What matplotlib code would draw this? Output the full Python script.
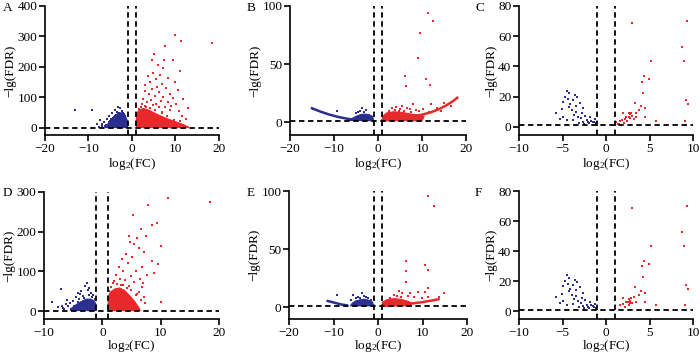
import matplotlib
matplotlib.use('Agg')
import matplotlib.pyplot as plt

plt.rcParams['font.family'] = ['Liberation Serif', 'DejaVu Serif']
plt.rcParams['mathtext.fontset'] = 'custom'
plt.rcParams['mathtext.rm'] = 'Liberation Serif'
plt.rcParams['mathtext.it'] = 'Liberation Serif'
plt.rcParams['font.size'] = 9.5

BLUE = '#2b2f8f'
RED = '#e8282b'

# ---- panel A ----
a_blue_core_x = [-6.2, -5.6, -4.8, -4.0, -3.2, -2.4, -1.6, -1.1, -1.0]
a_blue_core_y = [1.3, 12, 28, 40, 48, 50, 42, 25, 1.3]
a_blue_x = [-13, -9.2, -7.3, -8.0, -6.5, -5.8, -5.2, -4.6, -3.8, -3.2, -2.7, -2.2, -4.0, -6.8, -7.6, -5.0, -3.0, -1.8,
            -1.3, -2.5, -6.0, -5.4, -4.4, -3.5, -2.0, -1.5, -7.0, -6.3, -4.9, -3.6]
a_blue_y = [58, 60, 25, 14, 18, 30, 40, 48, 60, 70, 65, 55, 38, 6, 4, 22, 48, 45,
            30, 38, 10, 20, 34, 52, 50, 38, 12, 8, 30, 44]
a_red_core_x = [1.0, 1.0, 1.6, 2.6, 3.6, 5.0, 6.5, 8.5, 10.5, 12, 13, 13]
a_red_core_y = [1.3, 45, 58, 64, 60, 50, 40, 28, 18, 10, 3, 1.3]
a_red_x = [9.9, 11.2, 18.4, 7.7, 5.1, 4.5, 7.4, 9.4, 6.0, 11.0, 7.2, 4.8, 6.5, 3.7, 8.2, 5.5, 4.2, 9.8, 6.8, 3.1,
           5.8, 7.9, 4.6, 10.5, 2.9, 6.2, 8.8, 3.8, 5.2, 7.1, 9.5, 11.8, 2.5, 4.4, 6.6, 8.3, 10.2, 3.4, 5.6, 12.8,
           7.5, 9.0, 4.9, 2.2, 6.1, 8.7, 10.9, 3.0, 11.5, 12.5, 1.5, 2.0, 3.3, 4.1, 5.3, 7.0, 8.0, 9.6, 11.0, 6.8]
a_red_y = [305, 286, 278, 268, 244, 222, 222, 223, 207, 188, 196, 180, 175, 170, 165, 160, 150, 150, 145, 140,
           135, 130, 128, 125, 120, 118, 112, 110, 105, 102, 98, 95, 95, 92, 90, 85, 80, 85, 80, 65,
           70, 72, 75, 78, 68, 60, 55, 72, 40, 30, 62, 70, 68, 66, 58, 48, 38, 26, 22, 52]

# ---- panel B ----
b_blue_line_x = [-15, -13, -11, -9, -7, -6]
b_blue_line_y = [12, 9, 6.5, 4.5, 3, 2.5]
b_blue_core_x = [-7, -6, -5, -4, -3, -2, -1.2, -1.0]
b_blue_core_y = [1.5, 3, 5, 6.5, 7, 6.5, 5, 1.3]
b_blue_x = [-14.7, -9.4, -4.2, -3.6, -2.8, -5.0, -3.2, -4.6]
b_blue_y = [11.2, 9.8, 10, 12, 10.5, 8, 8.5, 9]
b_red_line_x = [1, 4, 7, 10, 12, 14, 15.5, 17, 18]
b_red_line_y = [1.5, 3, 4.5, 6.5, 8.5, 11.5, 14.5, 18, 21]
b_red_core_x = [1, 1, 2, 3.5, 5.5, 7.5, 9.5, 10.5, 10]
b_red_core_y = [1.3, 5, 8, 9, 8.5, 7, 6, 5, 1.3]
b_red_x = [11.3, 12.5, 9.5, 9.2, 6.2, 11, 6.3, 11.8, 12, 8, 15, 5.5, 4.2, 6.5, 3.2, 7.2, 8.6, 10.2, 13.5, 16.5,
           5, 2.5, 9.3, 4.8, 7.6, 13, 3.8, 6, 11.5, 14.3]
b_red_y = [94, 87, 77, 55, 40, 37, 31, 32, 16, 16, 16.5, 14, 13, 12, 12, 11, 10.5, 11, 12, 14,
           11, 10, 9.5, 10, 9, 10, 10.5, 10, 9, 9.5]

# ---- panel C ----
c_blue_x = [-4.5, -4.3, -4.7, -3.6, -4.9, -3.8, -3.0, -5.7, -5.1, -4.3, -3.9, -3.4, -4.9, -4.5, -3.8, -3.2,
            -2.8, -2.6, -2.2, -1.8, -1.5, -2.0, -1.3, -2.6, -3.1, -4.1, -3.5, -2.4, -1.7, -1.1, -1.4, -2.9,
            -3.7, -4.4, -5.3, -2.1, -1.2, -3.3, -2.5, -1.9]
c_blue_y = [24, 22.3, 20, 21.2, 16.7, 17.9, 16.1, 9.5, 11.7, 13.4, 11.2, 10.1, 6.8, 4.6, 4.9, 6.8,
            9.0, 12.3, 4.6, 6.4, 3.5, 2.4, 5.1, 3.5, 2.9, 15, 14, 7.5, 4.2, 2.6, 3.0, 5.8,
            8.2, 18.5, 5.5, 3.2, 1.9, 19.5, 2.2, 2.5]
c_red_x = [3.0, 9.3, 8.7, 9.0, 5.2, 4.4, 4.9, 4.1, 4.2, 9.2, 9.4, 3.3, 4.0, 4.5, 3.8, 2.9, 2.0, 2.3, 2.75,
           3.5, 4.5, 5.8, 9.1, 1.2, 1.6, 1.0, 1.4, 1.8, 2.1, 2.4, 2.6, 2.8, 3.0, 3.2, 2.7, 1.5, 3.4, 2.2]
c_red_y = [68.8, 70.3, 52.7, 43.6, 43.6, 33.7, 31.5, 30, 22.7, 17.9, 15.2, 16.1, 13.9, 12.3, 11.2, 9, 9, 6.4, 5.9,
           6.4, 6.4, 4.2, 4.2, 3.5, 4.2, 2.4, 2.2, 4.5, 2.8, 3.8, 6.5, 8.5, 7.0, 5.5, 9.5, 1.8, 9.0, 5.0]

# ---- panel D ----
d_blue_core_x = [-5.5, -5.2, -4.5, -3.6, -2.8, -2.0, -1.4, -1.05, -1.0]
d_blue_core_y = [1.3, 8, 16, 24, 30, 30, 26, 15, 1.3]
d_blue_x = [-8.7, -7.0, -7.6, -6.8, -6.2, -5.8, -5.0, -4.5, -4.2, -3.6, -3.0, -2.7, -2.3, -2.0, -3.3, -4.0,
            -5.5, -6.5, -1.6, -2.5, -3.8, -6.0, -4.8, -5.3, -4.1, -3.1, -1.8, -1.3, -2.2, -6.9]
d_blue_y = [22, 55, 10, 8, 18, 12, 25, 35, 45, 50, 62, 70, 58, 45, 38, 30,
            20, 4, 40, 52, 42, 28, 12, 6, 22, 34, 36, 30, 40, 14]
d_red_core_x = [1.0, 1.0, 1.4, 2.2, 3.0, 3.8, 4.6, 5.5, 6.2, 6.5]
d_red_core_y = [1.3, 35, 48, 56, 58, 52, 40, 25, 10, 1.3]
d_red_x = [11.3, 18.5, 7.8, 5.3, 9.3, 8.6, 6.6, 7.5, 6.0, 4.6, 10.0, 5.5, 4.8, 6.3, 7.2, 4.0, 5.1, 3.3, 8.6, 9.6,
           4.4, 6.8, 2.8, 5.8, 3.6, 8.8, 7.6, 4.9, 2.4, 6.4, 3.9, 5.4, 7.0, 6.8, 4.5, 3.2, 6.3, 5.8, 7.1, 10.0,
           6.7, 2.0, 1.5, 1.2, 2.6, 3.5, 4.2, 5.0, 6.0, 7.4, 3.0, 1.8]
d_red_y = [285, 276, 267, 242, 222, 217, 208, 190, 185, 190, 165, 170, 175, 160, 150, 145, 135, 130, 125, 118,
           120, 110, 112, 100, 100, 95, 92, 88, 90, 80, 78, 72, 70, 60, 62, 65, 48, 40, 35, 22,
           28, 75, 60, 50, 68, 66, 58, 52, 44, 20, 82, 70]

# ---- panel E ----
e_blue_line_x = [-11.3, -10, -9, -8, -7]
e_blue_line_y = [5.5, 4.2, 3.2, 2.3, 1.8]
e_blue_core_x = [-6.2, -5.8, -5, -4, -3, -2, -1.2, -1.0]
e_blue_core_y = [1.3, 3.5, 5.5, 6.5, 7, 6, 4.5, 1.3]
e_blue_x = [-9.3, -5.6, -3.5, -4.5, -4.0, -2.8, -5.0, -3.2, -2.2, -6.0, -1.6]
e_blue_y = [11, 11, 12.6, 9, 8, 9, 8, 10, 8, 6, 6.5]
e_red_line_x = [1, 4, 7, 10, 12, 13.6]
e_red_line_y = [1.5, 2, 3, 4.5, 5.8, 7]
e_red_core_x = [1, 1, 2, 3.5, 5, 6.5, 7.5, 7.5]
e_red_core_y = [1.3, 4.5, 6.5, 7.5, 7, 5.5, 4, 1.3]
e_red_x = [11.2, 12.6, 6.4, 6.2, 10.6, 11.3, 6.2, 11.3, 14.8, 7.2, 9, 10.5, 4.8, 5.5, 3.5, 8, 13.8, 4.2,
           6.8, 5.2, 2.8, 9.8, 11.2]
e_red_y = [95.7, 87.3, 39.7, 31, 36.8, 31.9, 21.8, 17, 12.6, 12, 13.5, 13.5, 14, 12.5, 11, 9, 8.5, 10,
           9.5, 9, 8, 8, 9]

# ---- panel F ----
f_blue_x = [-4.5, -4.3, -4.7, -3.6, -4.9, -3.8, -3.0, -5.7, -5.1, -4.3, -3.9, -3.4, -4.9, -4.5, -3.8, -3.2,
            -2.8, -2.6, -2.2, -1.8, -1.5, -2.0, -1.3, -2.6, -3.1, -4.1, -3.5, -2.4, -1.7, -1.1, -1.4, -2.9,
            -3.7, -4.4, -5.3, -2.1, -1.2, -3.3, -2.5]
f_blue_y = [24, 22.3, 20, 21.2, 16.7, 17.9, 16.1, 9.5, 11.7, 13.4, 11.2, 10.1, 6.8, 4.6, 4.9, 6.8,
            9.0, 12.3, 4.6, 6.4, 3.5, 2.4, 5.1, 3.5, 2.9, 15, 14, 7.5, 4.2, 2.6, 3.0, 5.8,
            8.2, 18.5, 5.5, 3.2, 1.9, 19.5, 2.2]
f_red_x = [3.0, 9.3, 8.7, 9.0, 5.2, 4.4, 4.9, 4.1, 4.2, 9.2, 9.4, 3.3, 4.0, 4.5, 3.8, 2.9, 2.0, 2.3, 2.75,
           3.5, 4.5, 5.8, 9.1, 1.6, 1.9, 2.2, 2.5, 2.6, 2.8, 3.0, 3.2, 2.7]
f_red_y = [68.8, 70.3, 52.7, 43.6, 43.6, 33.7, 31.5, 30, 22.7, 17.9, 15.2, 16.1, 13.9, 12.3, 11.2, 9, 9, 6.4, 5.9,
           6.4, 6.4, 4.2, 4.2, 4.0, 5.0, 3.2, 6.5, 8.5, 7.0, 5.5, 9.5, 4.5]

W, H = 700, 353
fig = plt.figure(figsize=(7, 3.53), dpi=100)


def make_ax(l, r, t, b):
    return fig.add_axes([l / W, 1 - b / H, (r - l) / W, (b - t) / H])


def style(ax, xlim, ylim, xticks, yticks, xlab_y):
    ax.set_xlim(*xlim)
    ax.set_ylim(*ylim)
    ax.set_xticks(xticks)
    ax.set_yticks(yticks)
    ax.set_xticklabels([str(v).replace('-', '\u2212') for v in xticks])
    ax.set_yticklabels([str(v) for v in yticks])
    for s in ['top', 'right']:
        ax.spines[s].set_visible(False)
    for s in ['left', 'bottom']:
        ax.spines[s].set_linewidth(1.2)
    ax.tick_params(direction='out', length=4, width=1.2, pad=1.5)
    ax.set_xlabel('log$_2$(FC)')
    ax.xaxis.set_label_coords(0.5, xlab_y)
    ax.set_ylabel('\u2212lg(FDR)', labelpad=0.5)
    kw = dict(color='black', ls=(0, (3, 2)), lw=1.3, zorder=5)
    ax.axvline(-1, **kw)
    ax.axvline(1, **kw)
    ax.axhline(1.3, **kw)


def dots(ax, x, y, c):
    ax.scatter(x, y, s=2.5, c=c, marker='s', linewidths=0, zorder=3)


def core(ax, x, y, c):
    ax.fill(x, y, color=c, lw=0.8, ec=c, zorder=2)


# A
ax = make_ax(45, 219, 6, 135)
core(ax, a_blue_core_x, a_blue_core_y, BLUE)
core(ax, a_red_core_x, a_red_core_y, RED)
dots(ax, a_blue_x, a_blue_y, BLUE)
dots(ax, a_red_x, a_red_y, RED)
style(ax, (-20, 20), (-23, 400), [-20, -10, 0, 10, 20], [0, 100, 200, 300, 400], -0.165)

# B
ax = make_ax(290, 466, 6, 135)
core(ax, b_blue_core_x, b_blue_core_y, BLUE)
core(ax, b_red_core_x, b_red_core_y, RED)
ax.plot(b_blue_line_x, b_blue_line_y, color=BLUE, lw=1.8)
ax.plot(b_red_line_x, b_red_line_y, color=RED, lw=1.8)
dots(ax, b_blue_x, b_blue_y, BLUE)
dots(ax, b_red_x, b_red_y, RED)
style(ax, (-20, 20), (-11, 100), [-20, -10, 0, 10, 20], [0, 50, 100], -0.165)

# C
ax = make_ax(519, 693, 6, 135)
dots(ax, c_blue_x, c_blue_y, BLUE)
dots(ax, c_red_x, c_red_y, RED)
style(ax, (-10, 10), (-5.3, 80), [-10, -5, 0, 5, 10], [0, 20, 40, 60, 80], -0.165)

# D
ax = make_ax(44, 219, 192, 319)
core(ax, d_blue_core_x, d_blue_core_y, BLUE)
core(ax, d_red_core_x, d_red_core_y, RED)
dots(ax, d_blue_x, d_blue_y, BLUE)
dots(ax, d_red_x, d_red_y, RED)
style(ax, (-10, 20), (-20, 300), [-10, 0, 10, 20], [0, 100, 200, 300], -0.15)

# E
ax = make_ax(289, 467, 191, 319)
core(ax, e_blue_core_x, e_blue_core_y, BLUE)
core(ax, e_red_core_x, e_red_core_y, RED)
ax.plot(e_blue_line_x, e_blue_line_y, color=BLUE, lw=1.8)
ax.plot(e_red_line_x, e_red_line_y, color=RED, lw=1.8)
dots(ax, e_blue_x, e_blue_y, BLUE)
dots(ax, e_red_x, e_red_y, RED)
style(ax, (-20, 20), (-10, 100), [-20, -10, 0, 10, 20], [0, 50, 100], -0.15)

# F
ax = make_ax(519, 693, 191, 319)
dots(ax, f_blue_x, f_blue_y, BLUE)
dots(ax, f_red_x, f_red_y, RED)
style(ax, (-10, 10), (-5, 80), [-10, -5, 0, 5, 10], [0, 20, 40, 60, 80], -0.15)

for lab, x, y in [('A', 3, 8), ('B', 247, 8), ('C', 475, 8),
                  ('D', 3, 193), ('E', 247, 193), ('F', 475, 193)]:
    fig.text(x / W, 1 - y / H, lab, fontsize=9.5, va='center', ha='left')

fig.savefig('out.png', dpi=100)
